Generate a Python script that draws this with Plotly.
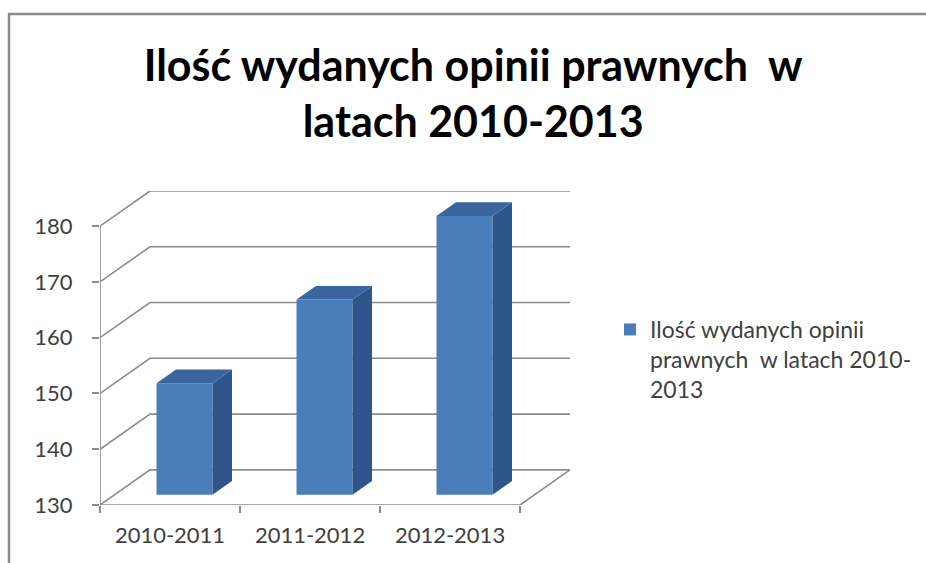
import plotly.graph_objects as go

# data
categories = ["2010-2011", "2011-2012", "2012-2013"]
values = [150, 165, 180]
y_ticks = [130, 140, 150, 160, 170, 180]
series_name = "Ilość wydanych opinii<br>prawnych  w latach 2010-<br>2013"
title = "Ilość wydanych opinii prawnych  w<br>latach 2010-2013"

# fake 3D: depth vector in data units (x in categories, y in values)
Y0, YMAX = 130, 180
DX, DY = 0.357, 6.3          # floor depth (front -> back wall)
D0, D1 = 0.29, 0.68          # bar front / back depth fraction
BW = 0.4                     # bar width (category units)

FRONT = "#4a7ebb"
SIDE = "#2f568a"
TOP = "#3a659e"
GRID = "#8c8c8c"
TXT = "#404040"

fig = go.Figure()

# back wall gridlines (front-left -> back-left -> back-right), base axes
xl, xr = -0.5, len(categories) - 0.5
for t in y_ticks:
    fig.add_trace(go.Scatter(
        x=[xl, xl + DX, xr + DX], y=[t, t + DY, t + DY], mode="lines",
        line=dict(color=GRID, width=1.6), hoverinfo="skip", showlegend=False))
# floor front edge + right diagonal, left axis line
fig.add_trace(go.Scatter(
    x=[xl, xr, xr + DX], y=[Y0, Y0, Y0 + DY], mode="lines",
    line=dict(color=GRID, width=1.6), hoverinfo="skip", showlegend=False))
fig.add_trace(go.Scatter(
    x=[xl, xl], y=[Y0, YMAX], mode="lines",
    line=dict(color=GRID, width=1.6), hoverinfo="skip", showlegend=False))

# bars on overlay axis so they cover the gridlines
fx = [i + D0 * DX for i in range(len(categories))]
fig.add_trace(go.Bar(
    x=fx, y=[v - Y0 for v in values], base=Y0 + D0 * DY, width=BW, xaxis="x2",
    marker=dict(color=FRONT, line=dict(width=0)), name=series_name,
    hoverinfo="skip"))

dd = D1 - D0
for i, v in enumerate(values):
    x1 = fx[i] + BW / 2
    x0 = fx[i] - BW / 2
    yb = Y0 + D0 * DY
    yt = v + D0 * DY
    fig.add_trace(go.Scatter(
        x=[x1, x1 + dd * DX, x1 + dd * DX, x1, x1],
        y=[yb, yb + dd * DY, yt + dd * DY, yt, yb], xaxis="x2",
        fill="toself", fillcolor=SIDE, mode="lines", line=dict(width=0, color=SIDE),
        hoverinfo="skip", showlegend=False))
    fig.add_trace(go.Scatter(
        x=[x0, x1, x1 + dd * DX, x0 + dd * DX, x0],
        y=[yt, yt, yt + dd * DY, yt + dd * DY, yt], xaxis="x2",
        fill="toself", fillcolor=TOP, mode="lines", line=dict(width=0, color=TOP),
        hoverinfo="skip", showlegend=False))

W, H = 926, 563


def py(px):
    return 1 - px / H


xdom = [100 / W, 570 / W]
xrange = [xl, xr + DX]
fig.update_layout(
    width=W, height=H,
    paper_bgcolor="white", plot_bgcolor="rgba(0,0,0,0)",
    margin=dict(l=0, r=0, t=0, b=0, pad=0),
    font=dict(family="Lato, Carlito, sans-serif", color=TXT),
    title=dict(text="<b>" + title + "</b>", x=0.511, xanchor="center",
               y=py(81), yanchor="top",
               font=dict(size=43, color="#000000", family="Lato, sans-serif")),
    xaxis=dict(domain=xdom, range=xrange, automargin=False,
               tickvals=[i - 0.5 for i in range(len(categories) + 1)],
               showticklabels=False, ticks="outside", ticklen=7, tickcolor=GRID,
               tickwidth=1.6, showgrid=False, zeroline=False, showline=False),
    xaxis2=dict(domain=xdom, range=xrange, overlaying="x", anchor="y",
                automargin=False,
                tickvals=list(range(len(categories))), ticktext=categories,
                showgrid=False, zeroline=False, showline=False, ticks="",
                tickfont=dict(size=22, color=TXT), ticklabelstandoff=15),
    yaxis=dict(domain=[py(505), py(191)], range=[Y0, YMAX + DY], automargin=False,
               tickvals=y_ticks, showgrid=False, zeroline=False, showline=False,
               ticks="outside", ticklen=7, tickcolor=GRID, tickwidth=1.6,
               tickfont=dict(size=22, color=TXT), ticklabelstandoff=15),
    legend=dict(x=610 / W, y=py(308), xanchor="left", yanchor="top",
                valign="top", font=dict(size=23, color=TXT),
                bgcolor="rgba(0,0,0,0)", itemwidth=30),
    shapes=[dict(type="rect", xref="paper", yref="paper",
                 x0=9 / W, x1=1.05, y0=-0.1, y1=py(14),
                 line=dict(color="#8a8a8a", width=2.5))],
)

PAGE = "document.body.style.margin='0';"
fig.write_html("out.html", post_script=PAGE, config={"displayModeBar": False})
